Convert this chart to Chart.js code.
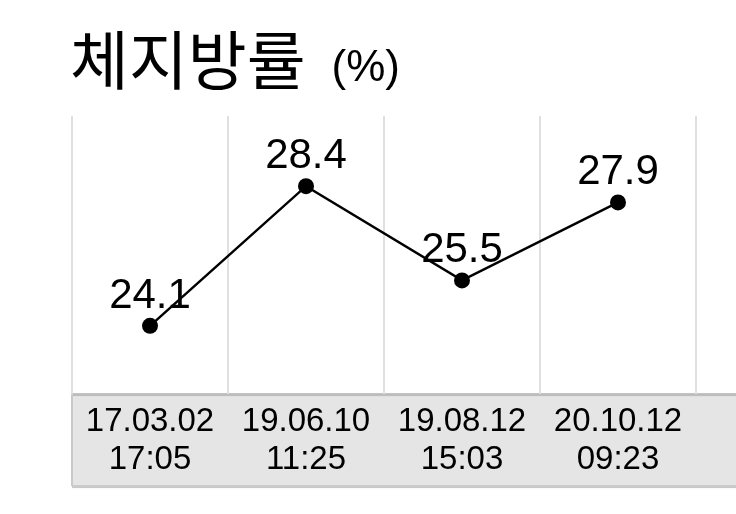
<!DOCTYPE html>
<html>
<head>
<meta charset="utf-8">
<script src="https://cdn.jsdelivr.net/npm/chart.js@4.4.1/dist/chart.umd.min.js"></script>
<style>
  html, body { margin: 0; padding: 0; background: #fff; overflow: hidden; }
  #wrap { position: relative; width: 736px; height: 514px; }
  #title { position: absolute; left: 70px; top: 16px; font-family: "Noto Sans CJK KR", sans-serif; font-size: 64px; line-height: 80px; color: #000; white-space: nowrap; }
  #title span { position: relative; top: -3px; font-family: "Liberation Sans", Arial, sans-serif; font-size: 44px; margin-left: 26px; }
  #grafico { position: absolute; left: 0; top: 0; }
</style>
</head>
<body>
<div id="wrap">
  <canvas id="grafico" width="736" height="514"></canvas>
  <div id="title">체지방률<span>(%)</span></div>
</div>
<script>
var datas = ["17.03.02", "19.06.10", "19.08.12", "20.10.12"];
var horas = ["17:05", "11:25", "15:03", "09:23"];
var gordura = [24.1, 28.4, 25.5, 27.9];

var labels = new Array();
for (var i = 0; i < datas.length; i++) {
    labels.push([datas[i], horas[i]]);
}

// faixa cinza atras das datas
var faixa = {
    id: 'faixa',
    beforeDraw: function (chart) {
        var ctx = chart.ctx;
        var area = chart.chartArea;
        var fim = area.bottom + 92;
        ctx.save();
        ctx.fillStyle = "#e5e5e5";
        ctx.fillRect(area.left, area.bottom, chart.width - area.left, fim - area.bottom);
        ctx.fillStyle = "#bdbdbd";
        ctx.fillRect(area.left, area.bottom - 1, chart.width - area.left, 3);
        ctx.fillStyle = "#c9c9c9";
        ctx.fillRect(area.left, fim - 1, chart.width - area.left, 3);
        ctx.fillRect(area.left - 1, area.bottom, 2, fim - area.bottom);
        ctx.restore();
    }
};

// valores em cima dos pontos
var valores = {
    id: 'valores',
    afterDatasetsDraw: function (chart) {
        var ctx = chart.ctx;
        var meta = chart.getDatasetMeta(0);
        ctx.save();
        ctx.font = "42px 'Liberation Sans', Arial, sans-serif";
        ctx.fillStyle = "#000";
        ctx.textAlign = "center";
        ctx.textBaseline = "alphabetic";
        meta.data.forEach(function (ponto, idx) {
            ctx.fillText(gordura[idx].toFixed(1), ponto.x, ponto.y - 18);
        });
        ctx.restore();
    }
};

var graf = document.getElementById("grafico");
var lineChart = new Chart(graf, {
    type: 'line',
    data: {
        labels: labels,
        datasets: [{
            label: "체지방률",
            data: gordura,
            borderColor: "#000",
            backgroundColor: "#000",
            borderWidth: 2.5,
            pointRadius: 8,
            pointBackgroundColor: "#000",
            pointBorderColor: "#000",
            pointBorderWidth: 0,
            tension: 0
        }]
    },
    options: {
        responsive: false,
        animation: false,
        layout: {
            padding: { top: 116, left: 72, right: 40, bottom: 26 }
        },
        plugins: {
            legend: { display: false },
            tooltip: { enabled: false },
            title: { display: false }
        },
        scales: {
            x: {
                offset: true,
                border: { display: false },
                grid: {
                    offset: true,
                    color: "#e0e0e0",
                    lineWidth: 2,
                    drawTicks: false
                },
                ticks: {
                    color: "#000",
                    padding: 9,
                    maxRotation: 0,
                    font: { family: "'Liberation Sans', Arial, sans-serif", size: 33, lineHeight: 1.15 }
                }
            },
            y: {
                display: false,
                min: 22,
                max: 30.56
            }
        }
    },
    plugins: [faixa, valores]
});
</script>
</body>
</html>
